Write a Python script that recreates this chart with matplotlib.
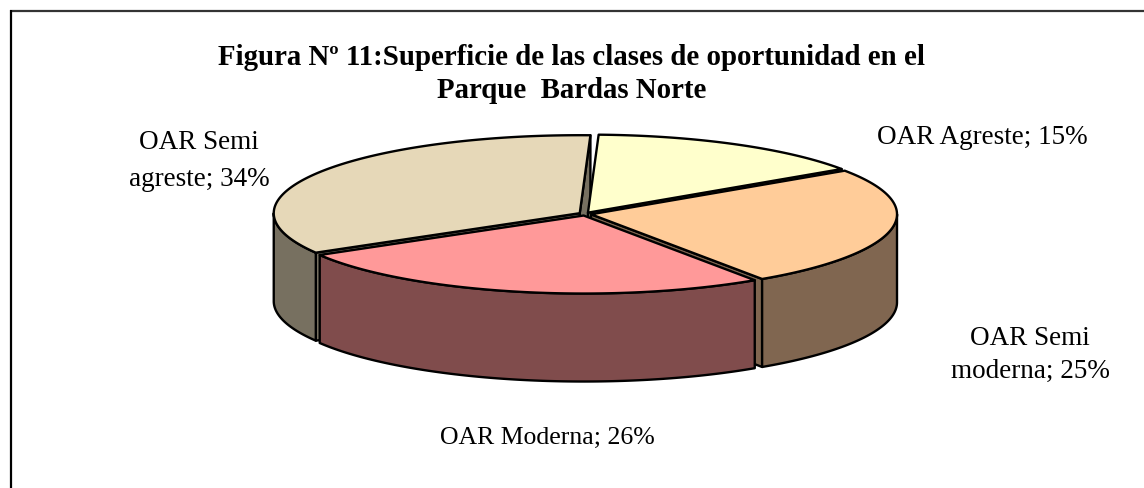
import numpy as np
import matplotlib
matplotlib.use("Agg")
import matplotlib.pyplot as plt
from matplotlib.patches import Polygon

# ---------------- data ----------------
categories = ["OAR Agreste", "OAR Semi moderna", "OAR Moderna", "OAR Semi agreste"]
values = [15, 25, 26, 34]
label_lines = [["OAR Agreste; 15%"],
               ["OAR Semi", "moderna; 25%"],
               ["OAR Moderna; 26%"],
               ["OAR Semi", "agreste; 34%"]]
top_colors = ["#FFFFCC", "#FFCC99", "#FF9999", "#E6D8B8"]
side_colors = ["#808066", "#806650", "#804C4C", "#777060"]
title_text = "Figura Nº 11:Superficie de las clases de oportunidad en el\nParque  Bardas Norte"

# ---------------- layout ----------------
W, H = 1144, 488
fig = plt.figure(figsize=(W / 100, H / 100), dpi=100)
ax = fig.add_axes([0, 0, 1, 1])
ax.set_xlim(0, W)
ax.set_ylim(H, 0)
ax.axis("off")

# frame (only top and left edges visible in the crop)
ax.plot([10, W], [10.5, 10.5], color="#333333", lw=1.6, solid_capstyle="butt")
ax.plot([10.5, 10.5], [10, H], color="black", lw=1.6, solid_capstyle="butt")

CX, CY = 585, 214      # centre of top face
A, B = 306, 78         # ellipse semi-axes
DEPTH = 88             # thickness
START = 2              # first slice angle (deg clockwise from top)
EXPLODE = 0.02
LW = 1.7

fr = np.array(values, dtype=float) / np.sum(values)
edges = START + np.concatenate([[0], np.cumsum(fr) * 360])


def pt(theta, ox, oy, z=0.0):
    t = np.radians(theta)
    return ox + A * np.sin(t), oy - B * np.cos(t) + z


slices = []
for i in range(len(values)):
    t1, t2 = edges[i], edges[i + 1]
    tm = np.radians((t1 + t2) / 2)
    ox = CX + EXPLODE * A * np.sin(tm)
    oy = CY - EXPLODE * B * np.cos(tm)
    slices.append((t1, t2, ox, oy))

faces, walls, tops = [], [], []
for i, (t1, t2, ox, oy) in enumerate(slices):
    # radial cut faces
    for th, nrm in ((t1, t1 - 90), (t2, t2 + 90)):
        if np.cos(np.radians(nrm)) < 0:
            rx, ry = pt(th, ox, oy)
            poly = [(ox, oy), (rx, ry), (rx, ry + DEPTH), (ox, oy + DEPTH)]
            depth_key = -(oy + ry) / 2
            faces.append((depth_key, poly, side_colors[i]))
    # outer wall (front half only)
    lo, hi = t1, t2
    for shift in (0, 360, -360):
        a0, a1 = max(lo + shift, 90), min(hi + shift, 270)
        if a1 > a0:
            ts = np.linspace(a0, a1, 120)
            topa = [pt(t, ox, oy) for t in ts]
            bota = [pt(t, ox, oy, DEPTH) for t in ts[::-1]]
            key = -np.cos(np.radians((a0 + a1) / 2))
            walls.append((key, topa + bota, side_colors[i]))
    # top face
    ts = np.linspace(t1, t2, 200)
    poly = [(ox, oy)] + [pt(t, ox, oy) for t in ts]
    tops.append(poly)

for _, poly, c in sorted(faces, key=lambda f: -f[0]):
    ax.add_patch(Polygon(poly, closed=True, facecolor=c, edgecolor="black",
                         lw=LW, joinstyle="round"))
for _, poly, c in sorted(walls, key=lambda f: f[0]):
    ax.add_patch(Polygon(poly, closed=True, facecolor=c, edgecolor="black",
                         lw=LW, joinstyle="round"))
for i, poly in enumerate(tops):
    ax.add_patch(Polygon(poly, closed=True, facecolor=top_colors[i],
                         edgecolor="black", lw=LW, joinstyle="round"))

# ---------------- text ----------------
serif = ["Liberation Serif", "DejaVu Serif"]
ax.text(572, 74, title_text, ha="center", va="center", family=serif,
        fontsize=20.8, fontweight="bold", linespacing=1.3, multialignment="center")

label_pos = [(982, 137), (1030, 355), (547, 438), (199, 161)]
label_sizes = [19.5, 19.5, 18.5, 19.5]
label_spacing = [1.3, 1.45, 1.3, 1.6]
for lines, (x, y), fs, ls in zip(label_lines, label_pos, label_sizes, label_spacing):
    ax.text(x, y, "\n".join(lines), ha="center", va="center", family=serif,
            fontsize=fs, linespacing=ls, multialignment="center")

fig.savefig("out.png", dpi=100)
